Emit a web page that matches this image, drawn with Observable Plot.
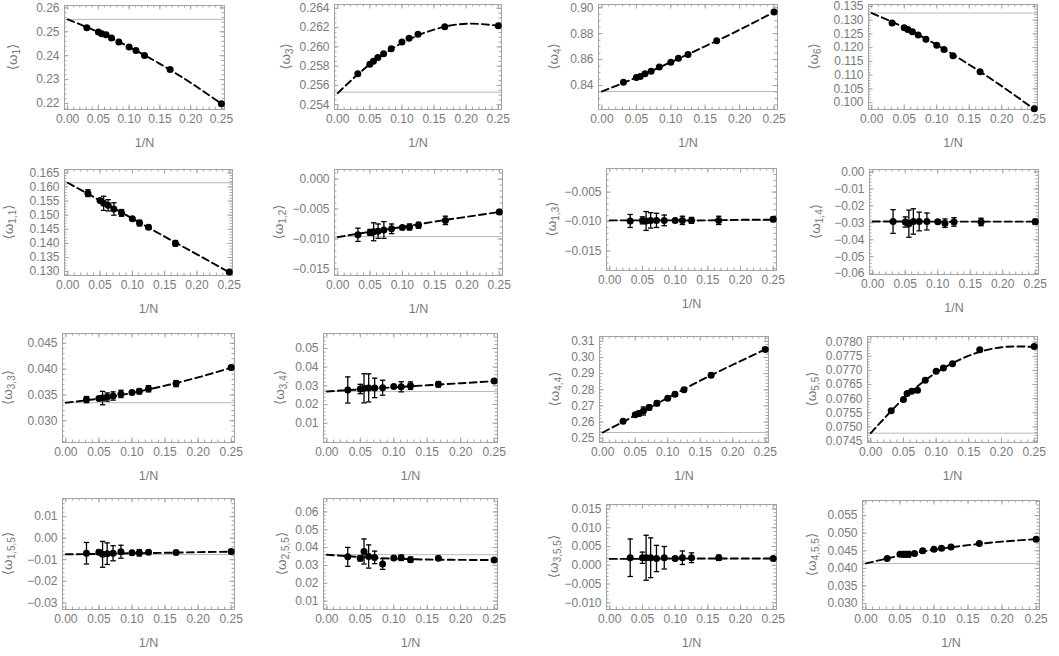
<!DOCTYPE html>
<html><head><meta charset="utf-8">
<script src="https://cdn.jsdelivr.net/npm/d3@7"></script>
<script src="https://cdn.jsdelivr.net/npm/@observablehq/plot@0.6"></script>
<style>
body{margin:0;background:#fff;}
#c{position:relative;width:1059px;height:656px;overflow:hidden;font-family:"Liberation Sans",Arial,sans-serif;}
#c svg{position:absolute;overflow:visible;}
</style></head><body><div id="c"></div>
<script>
// ---------- data ----------
const xInvN = [0.03125, 0.05, 0.05556, 0.0625, 0.07143, 0.08333, 0.1, 0.11111, 0.125, 0.16667, 0.25];
const xTicks = [0, 0.05, 0.1, 0.15, 0.2, 0.25];
const fitX = [0, 0.05, 0.1, 0.15, 0.2, 0.25];
const subLabels = ["1","3","4","6","1,1","1,2","1,3","1,4","3,3","3,4","4,4","5,5","1,5,5","2,5,5","3,5,5","4,5,5"];

const w1   = [0.2517, 0.2499, 0.2492, 0.2488, 0.2474, 0.2457, 0.2436, 0.2422, 0.2401, 0.2342, 0.2199];
const w3   = [0.2572, 0.2582, 0.2585, 0.2589, 0.2593, 0.2598, 0.2605, 0.2609, 0.2613, 0.2621, 0.2622];
const w4   = [0.8426, 0.8462, 0.8470, 0.8490, 0.8511, 0.8542, 0.8580, 0.8610, 0.8640, 0.8745, 0.8968];
const w6   = [0.1290, 0.1272, 0.1266, 0.1258, 0.1246, 0.1231, 0.1209, 0.1193, 0.1171, 0.1112, 0.0978];
const w11  = [0.1578, 0.1552, 0.1542, 0.1535, 0.1522, 0.1508, 0.1487, 0.1472, 0.1457, 0.1400, 0.1298];
const e11  = [0.0012, 0.0005, 0.0025, 0.0020, 0.0022, 0.0012, 0.0003, 0.0010, 0.0007, 0.0010, 0.0005];
const w12  = [-0.0093, -0.0089, -0.0088, -0.0087, -0.0085, -0.0083, -0.0081, -0.0080, -0.0077, -0.0069, -0.0055];
const e12  = [0.0011, 0.0005, 0.0015, 0.0012, 0.0014, 0.0008, 0.0002, 0.0005, 0.0005, 0.0007, 0.0003];
const w13  = [-0.0099, -0.0098, -0.0099, -0.0098, -0.0098, -0.0098, -0.0098, -0.0098, -0.0098, -0.0098, -0.0096];
const e13  = [0.0011, 0.0006, 0.0016, 0.0013, 0.0012, 0.0009, 0.0002, 0.0007, 0.0005, 0.0007, 0.0004];
const w14  = [-0.0292, -0.0295, -0.0305, -0.0292, -0.0292, -0.0292, -0.0293, -0.0302, -0.0295, -0.0295, -0.0293];
const e14  = [0.0070, 0.0030, 0.0080, 0.0075, 0.0055, 0.0050, 0.0010, 0.0025, 0.0025, 0.0022, 0.0015];
const w33  = [0.0341, 0.0343, 0.0344, 0.0346, 0.0348, 0.0352, 0.0355, 0.0357, 0.0362, 0.0372, 0.0403];
const e33  = [0.0006, 0.0003, 0.0013, 0.0008, 0.0008, 0.0007, 0.0002, 0.0005, 0.0006, 0.0006, 0.0004];
const w34  = [0.0278, 0.0283, 0.0287, 0.0289, 0.0289, 0.0290, 0.0296, 0.0295, 0.0301, 0.0308, 0.0326];
const e34  = [0.0070, 0.0025, 0.0078, 0.0075, 0.0052, 0.0040, 0.0005, 0.0027, 0.0020, 0.0015, 0.0008];
const w44  = [0.2605, 0.2645, 0.2652, 0.2668, 0.2690, 0.2716, 0.2748, 0.2772, 0.2800, 0.2890, 0.3050];
const e44  = [0.0008, 0.0008, 0.0015, 0.0025, 0.0015, 0.0015, 0.0005, 0.0012, 0.0008, 0.0012, 0.0012];
const w55  = [0.07557, 0.07597, 0.07618, 0.07626, 0.07630, 0.07665, 0.07697, 0.07709, 0.07724, 0.07773, 0.07785];
const e55  = [0.00003, 0.00003, 0.00004, 0.00004, 0.00005, 0.00004, 0.00002, 0.00004, 0.00003, 0.00004, 0.00005];
const w155 = [-0.0070, -0.0065, -0.0075, -0.0072, -0.0070, -0.0063, -0.0068, -0.0068, -0.0065, -0.0066, -0.0062];
const e155 = [0.0050, 0.0010, 0.0060, 0.0050, 0.0035, 0.0030, 0.0003, 0.0015, 0.0008, 0.0004, 0.0004];
const w255 = [0.0348, 0.0340, 0.0378, 0.0350, 0.0345, 0.0308, 0.0342, 0.0343, 0.0332, 0.0340, 0.0330];
const e255 = [0.0053, 0.0015, 0.0070, 0.0065, 0.0035, 0.0030, 0.0004, 0.0015, 0.0015, 0.0008, 0.0008];
const w355 = [0.0020, 0.0020, 0.0020, 0.0020, 0.0018, 0.0020, 0.0018, 0.0020, 0.0020, 0.0020, 0.0018];
const e355 = [0.0050, 0.0015, 0.0060, 0.0053, 0.0035, 0.0030, 0.0005, 0.0018, 0.0013, 0.0007, 0.0004];
const w455 = [0.0428, 0.0440, 0.0440, 0.0440, 0.0442, 0.0450, 0.0454, 0.0457, 0.0461, 0.0471, 0.0483];
const e455 = [0.0003, 0.0005, 0.0008, 0.0008, 0.0005, 0.0006, 0.0003, 0.0005, 0.0004, 0.0003, 0.0003];

// dashed extrapolation curves, read at 1/N = 0, 0.05, ..., 0.25
const f1   = [0.2552, 0.2499, 0.2437, 0.2366, 0.2287, 0.2199];
const f3   = [0.2552, 0.2582, 0.2604, 0.2618, 0.2624, 0.2622];
const f4   = [0.8354, 0.8462, 0.8580, 0.8703, 0.8830, 0.8967];
const f6   = [0.1326, 0.1273, 0.1210, 0.1138, 0.1060, 0.0976];
const f11  = [0.1615, 0.1552, 0.1488, 0.1424, 0.1361, 0.1297];
const f12  = [-0.0097, -0.0088, -0.0080, -0.0071, -0.0063, -0.0055];
const f13  = [-0.0098, -0.0098, -0.0098, -0.0098, -0.0097, -0.0097];
const f14  = [-0.0292, -0.0292, -0.0293, -0.0293, -0.0293, -0.0293];
const f33  = [0.0335, 0.0343, 0.0354, 0.0368, 0.0384, 0.0403];
const f34  = [0.0270, 0.0281, 0.0292, 0.0303, 0.0314, 0.0325];
const f44  = [0.2535, 0.2641, 0.2750, 0.2856, 0.2955, 0.3050];
const f55  = [0.07478, 0.07600, 0.07692, 0.07752, 0.07782, 0.07783];
const f155 = [-0.0075, -0.0073, -0.0070, -0.0068, -0.0065, -0.0063];
const f255 = [0.0360, 0.0347, 0.0338, 0.0333, 0.0331, 0.0330];
const f355 = [0.0017, 0.0017, 0.0018, 0.0018, 0.0018, 0.0018];
const f455 = [0.0414, 0.0436, 0.0453, 0.0466, 0.0476, 0.0483];

// N -> infinity limits (grey reference lines)
const limits = [0.2552, 0.2553, 0.8354, 0.1326, 0.1615, -0.0096, -0.0098, -0.0292,
                0.0335, 0.0270, 0.2535, 0.07478, -0.0076, 0.0360, 0.0017, 0.0414];

// y tick labels
const t1   = [0.22, 0.23, 0.24, 0.25, 0.26];
const t3   = [0.254, 0.256, 0.258, 0.260, 0.262, 0.264];
const t4   = [0.84, 0.86, 0.88, 0.90];
const t6   = [0.100, 0.105, 0.110, 0.115, 0.120, 0.125, 0.130, 0.135];
const t11  = [0.130, 0.135, 0.140, 0.145, 0.150, 0.155, 0.160, 0.165];
const t12  = [-0.015, -0.010, -0.005, 0.000];
const t13  = [-0.015, -0.010, -0.005];
const t14  = [-0.06, -0.05, -0.04, -0.03, -0.02, -0.01, 0.00];
const t33  = [0.030, 0.035, 0.040, 0.045];
const t34  = [0.01, 0.02, 0.03, 0.04, 0.05];
const t44  = [0.25, 0.26, 0.27, 0.28, 0.29, 0.30, 0.31];
const t55  = [0.0745, 0.0750, 0.0755, 0.0760, 0.0765, 0.0770, 0.0775, 0.0780];
const t155 = [-0.03, -0.02, -0.01, 0.00, 0.01];
const t255 = [0.01, 0.02, 0.03, 0.04, 0.05, 0.06];
const t355 = [-0.010, -0.005, 0.000, 0.005, 0.010, 0.015];
const t455 = [0.030, 0.035, 0.040, 0.045, 0.050, 0.055];

// ---------- panel setup ----------
const panels = [
  {y:w1,   err:null, fit:f1,   ticks:t1,   fmt:".2f", minor:0.002,  domain:[0.2175, 0.2610]},
  {y:w3,   err:null, fit:f3,   ticks:t3,   fmt:".3f", minor:0.0005, domain:[0.2535, 0.2644]},
  {y:w4,   err:null, fit:f4,   ticks:t4,   fmt:".2f", minor:0.005,  domain:[0.8215, 0.9025]},
  {y:w6,   err:null, fit:f6,   ticks:t6,   fmt:".3f", minor:0.001,  domain:[0.0975, 0.1357]},
  {y:w11,  err:e11,  fit:f11,  ticks:t11,  fmt:".3f", minor:0.001,  domain:[0.1286, 0.1662]},
  {y:w12,  err:e12,  fit:f12,  ticks:t12,  fmt:".3f", minor:0.001,  domain:[-0.0161, 0.0016]},
  {y:w13,  err:e13,  fit:f13,  ticks:t13,  fmt:".3f", minor:0.001,  domain:[-0.0183, -0.0010]},
  {y:w14,  err:e14,  fit:f14,  ticks:t14,  fmt:".2f", minor:0.002,  domain:[-0.0605, 0.0015]},
  {y:w33,  err:e33,  fit:f33,  ticks:t33,  fmt:".3f", minor:0.001,  domain:[0.0258, 0.0469]},
  {y:w34,  err:e34,  fit:f34,  ticks:t34,  fmt:".2f", minor:0.002,  domain:[-0.0003, 0.0580]},
  {y:w44,  err:e44,  fit:f44,  ticks:t44,  fmt:".2f", minor:0.002,  domain:[0.2473, 0.3130]},
  {y:w55,  err:e55,  fit:f55,  ticks:t55,  fmt:".4f", minor:0.0001, domain:[0.07445, 0.07820]},
  {y:w155, err:e155, fit:f155, ticks:t155, fmt:".2f", minor:0.002,  domain:[-0.0331, 0.0184]},
  {y:w255, err:e255, fit:f255, ticks:t255, fmt:".2f", minor:0.002,  domain:[0.0053, 0.0675]},
  {y:w355, err:e355, fit:f355, ticks:t355, fmt:".3f", minor:0.001,  domain:[-0.0118, 0.0162]},
  {y:w455, err:e455, fit:f455, ticks:t455, fmt:".3f", minor:0.001,  domain:[0.0283, 0.0593]}
];
// frame boxes [left, top, right, bottom] and y-label offsets (layout)
const frames = [
  [64,5,224,109],[334,4,501,109],[598,4,777,109],[868,4,1037,109],
  [64,169,232,275],[334,169,502,275],[606,168,776,270],[869,169,1038,274],
  [62,333,234,442],[323,333,497,442],[599,336,768,442],[867,336,1037,442],
  [62,498,234,609],[323,498,497,609],[606,504,776,609],[862,500,1039,609]
];
const ylabOff = [51,48,44,54, 55,55,54,53, 54,43,44,55, 54,41,52,50];

const ML=80, MR=8, MT=8, MB=48;
const gray = "#7a7a7a", frameCol = "#a3a3a3";
const cap = {draw(ctx){ ctx.moveTo(-2.7,0); ctx.lineTo(2.7,0); }};
const container = document.getElementById("c");
const xDomain = [-0.005, 0.255];

panels.forEach((p,i)=>{
  const [L,T,R,B] = frames[i];
  const fw = R-L, fh = B-T;
  const pts = xInvN.map((x,j)=>({x, y:p.y[j], e:p.err ? p.err[j] : 0}));
  const fitPts = fitX.map((x,j)=>({x, y:p.fit[j]}));
  const [d0,d1] = p.domain;
  const yMinor = d3.range(Math.ceil(d0/p.minor - 1e-6), Math.floor(d1/p.minor + 1e-6)+1).map(k=>k*p.minor);
  const xMinor = d3.range(0, 26).map(k=>k*0.01);
  const Mj = 4.5, Mn = 2.5;
  const marks = [
    Plot.ruleY([limits[i]], {stroke:"#b8b8b8", strokeWidth:1}),
    Plot.tickX(xMinor, {x:d=>d, stroke:frameCol, insetTop:fh-Mn}),
    Plot.tickX(xMinor, {x:d=>d, stroke:frameCol, insetBottom:fh-Mn}),
    Plot.tickX(xTicks, {x:d=>d, stroke:frameCol, insetTop:fh-Mj}),
    Plot.tickX(xTicks, {x:d=>d, stroke:frameCol, insetBottom:fh-Mj}),
    Plot.tickY(yMinor, {y:d=>d, stroke:frameCol, insetRight:fw-Mn}),
    Plot.tickY(yMinor, {y:d=>d, stroke:frameCol, insetLeft:fw-Mn}),
    Plot.tickY(p.ticks, {y:d=>d, stroke:frameCol, insetRight:fw-Mj}),
    Plot.tickY(p.ticks, {y:d=>d, stroke:frameCol, insetLeft:fw-Mj}),
    Plot.frame({stroke:frameCol}),
    Plot.axisX({ticks:xTicks, tickSize:0, tickPadding:5, tickFormat:".2f", label:null, color:gray, fontSize:12}),
    Plot.axisY({ticks:p.ticks, tickSize:0, tickPadding:5, tickFormat:p.fmt, label:null, color:gray, fontSize:12}),
    Plot.line(fitPts, {x:"x", y:"y", curve:"natural", stroke:"black", strokeWidth:1.9, strokeDasharray:"7,4"})
  ];
  if (p.err) {
    marks.push(Plot.ruleX(pts, {x:"x", y1:d=>d.y-d.e, y2:d=>d.y+d.e, stroke:"black", strokeWidth:1.3}));
    marks.push(Plot.dot(pts, {x:"x", y:d=>d.y+d.e, symbol:cap, stroke:"black", strokeWidth:1.3}));
    marks.push(Plot.dot(pts, {x:"x", y:d=>d.y-d.e, symbol:cap, stroke:"black", strokeWidth:1.3}));
  }
  marks.push(Plot.dot(pts, {x:"x", y:"y", r:3.5, fill:"black"}));
  marks.push(Plot.text(["1/N"], {text:d=>d, frameAnchor:"bottom", dy:37, fill:gray, fontSize:12.5}));
  const svg = Plot.plot({
    width: fw+ML+MR, height: fh+MT+MB,
    marginLeft: ML, marginRight: MR, marginTop: MT, marginBottom: MB,
    x: {domain: xDomain},
    y: {domain: p.domain},
    style: {fontFamily: '"Liberation Sans", Arial, sans-serif', background: "transparent", overflow: "visible"},
    marks
  });
  svg.style.left = (L-ML)+"px";
  svg.style.top = (T-MT)+"px";
  const t = d3.select(svg).append("text")
    .attr("transform", `translate(${ML-ylabOff[i]},${MT+fh/2}) rotate(-90)`)
    .attr("text-anchor","middle").attr("dominant-baseline","middle")
    .attr("fill",gray).attr("font-size",13.5)
    .attr("font-family",'"Liberation Sans","DejaVu Sans",sans-serif');
  t.append("tspan").text("\u27E8\u03C9");
  t.append("tspan").attr("font-size",10).attr("dy",3.5).text(subLabels[i]);
  t.append("tspan").attr("dy",-3.5).text("\u27E9");
  container.appendChild(svg);
});
</script>
</body></html>
